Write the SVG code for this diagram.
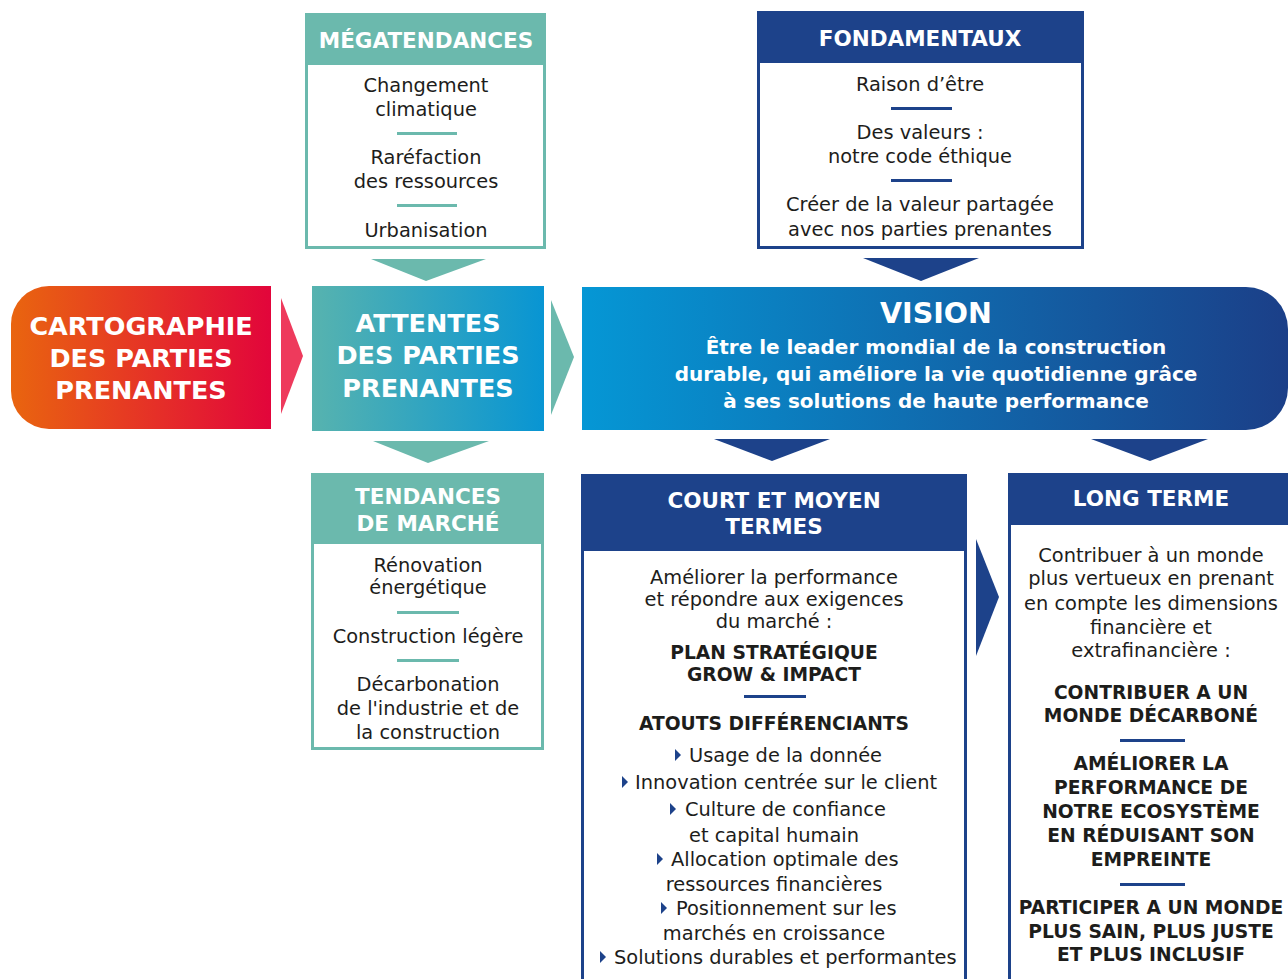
<svg xmlns="http://www.w3.org/2000/svg" xmlns:xlink="http://www.w3.org/1999/xlink" width="1288" height="979" viewBox="0 0 1288 979">
<defs>
<linearGradient id="gCarto" x1="0" y1="0" x2="1" y2="0">
<stop offset="0" stop-color="#E9650F"/><stop offset="1" stop-color="#E2053B"/>
</linearGradient>
<linearGradient id="gAtt" x1="0" y1="0" x2="1" y2="0">
<stop offset="0" stop-color="#57B3AF"/><stop offset="1" stop-color="#0895D3"/>
</linearGradient>
<linearGradient id="gVis" x1="0" y1="0" x2="1" y2="0">
<stop offset="0" stop-color="#0597D5"/><stop offset="1" stop-color="#1B3F88"/>
</linearGradient>
<polygon id="tri" points="0,-6 6,0 0,6" fill="#1D428A"/>
<style>
.body{font-family:"DejaVu Sans",sans-serif;font-size:19.4px;fill:#1D1D1B;text-anchor:middle}
.bodyL{font-family:"DejaVu Sans",sans-serif;font-size:19.4px;fill:#1D1D1B}
.bold{font-family:"DejaVu Sans",sans-serif;font-weight:bold;font-size:18.7px;fill:#1D1D1B;text-anchor:middle}
.hdr{font-family:"DejaVu Sans",sans-serif;font-weight:bold;font-size:21.5px;fill:#FFFFFF;text-anchor:middle}
.big{font-family:"DejaVu Sans",sans-serif;font-weight:bold;font-size:25.5px;fill:#FFFFFF;text-anchor:middle}
.vis{font-family:"DejaVu Sans",sans-serif;font-weight:bold;font-size:20px;fill:#FFFFFF;text-anchor:middle}
.tealbox{fill:#FFFFFF;stroke:#6BB9AD;stroke-width:3}
.bluebox{fill:#FFFFFF;stroke:#1D428A;stroke-width:3}
.teal{fill:#6BB9AD}
.blue{fill:#1D428A}
</style>
</defs>
<rect width="1288" height="979" fill="#FFFFFF"/>

<g id="connectors">
<polygon class="teal" points="371,259 486,259 426,281"/>
<polygon class="blue" points="863,258 979,258 921,281"/>
<polygon fill="#EE3A5C" points="281,298 303,356 281,414"/>
<polygon class="teal" points="551,300 574,357 551,415"/>
<polygon class="teal" points="373,441 489,441 428,463"/>
<polygon class="blue" points="714,439 830,439 772,461"/>
<polygon class="blue" points="1091,439 1208,439 1150,461"/>
<polygon class="blue" points="976,539 999,597 976,656"/>
</g>

<g id="megatendances">
<rect class="tealbox" x="306.5" y="14.5" width="238" height="233"/>
<rect class="teal" x="305" y="13" width="241" height="52"/>
<text class="hdr" x="426" y="48">MÉGATENDANCES</text>
<text class="body" x="426" y="92">Changement</text>
<text class="body" x="426" y="116">climatique</text>
<rect class="teal" x="397" y="132" width="60" height="3"/>
<text class="body" x="426" y="164">Raréfaction</text>
<text class="body" x="426" y="188">des ressources</text>
<rect class="teal" x="397" y="204" width="60" height="3"/>
<text class="body" x="426" y="237">Urbanisation</text>
</g>

<g id="fondamentaux">
<rect class="bluebox" x="758.5" y="12.5" width="324" height="235"/>
<rect class="blue" x="757" y="11" width="327" height="52"/>
<text class="hdr" x="920" y="46">FONDAMENTAUX</text>
<text class="body" x="920" y="91">Raison d’être</text>
<rect class="blue" x="891" y="107" width="61" height="3"/>
<text class="body" x="920" y="139">Des valeurs :</text>
<text class="body" x="920" y="163">notre code éthique</text>
<rect class="blue" x="891" y="179" width="61" height="3"/>
<text class="body" x="920" y="211">Créer de la valeur partagée</text>
<text class="body" x="920" y="236">avec nos parties prenantes</text>
</g>

<g id="cartographie">
<path fill="url(#gCarto)" d="M49 286 H271 V429 H49 A38 38 0 0 1 11 391 V324 A38 38 0 0 1 49 286 Z"/>
<text class="big" x="141" y="335">CARTOGRAPHIE</text>
<text class="big" x="141" y="367">DES PARTIES</text>
<text class="big" x="141" y="399">PRENANTES</text>
</g>

<g id="attentes">
<rect fill="url(#gAtt)" x="312" y="286" width="232" height="145"/>
<text class="big" x="428" y="332">ATTENTES</text>
<text class="big" x="428" y="364">DES PARTIES</text>
<text class="big" x="428" y="397">PRENANTES</text>
</g>

<g id="vision">
<path fill="url(#gVis)" d="M582 287 H1246 A42 42 0 0 1 1288 329 V388 A42 42 0 0 1 1246 430 H582 Z"/>
<text class="big" style="font-size:28.5px" x="936" y="323">VISION</text>
<text class="vis" x="936" y="354">Être le leader mondial de la construction</text>
<text class="vis" x="936" y="381">durable, qui améliore la vie quotidienne grâce</text>
<text class="vis" x="936" y="408">à ses solutions de haute performance</text>
</g>

<g id="tendances">
<rect class="tealbox" x="312.5" y="474.5" width="230" height="274"/>
<rect class="teal" x="311" y="473" width="233" height="71"/>
<text class="hdr" x="428" y="504">TENDANCES</text>
<text class="hdr" x="428" y="531">DE MARCHÉ</text>
<text class="body" x="428" y="572">Rénovation</text>
<text class="body" x="428" y="594">énergétique</text>
<rect class="teal" x="397" y="611" width="62" height="3"/>
<text class="body" x="428" y="643">Construction légère</text>
<rect class="teal" x="397" y="659" width="62" height="3"/>
<text class="body" x="428" y="691">Décarbonation</text>
<text class="body" x="428" y="715">de l'industrie et de</text>
<text class="body" x="428" y="739">la construction</text>
</g>

<g id="court-moyen-termes">
<rect class="bluebox" x="582.5" y="475.5" width="383" height="520"/>
<rect class="blue" x="581" y="474" width="386" height="77"/>
<text class="hdr" x="774" y="508">COURT ET MOYEN</text>
<text class="hdr" x="774" y="534">TERMES</text>
<text class="body" x="774" y="584">Améliorer la performance</text>
<text class="body" x="774" y="606">et répondre aux exigences</text>
<text class="body" x="774" y="628">du marché :</text>
<text class="bold" x="774" y="659">PLAN STRATÉGIQUE</text>
<text class="bold" x="774" y="681">GROW &amp; IMPACT</text>
<rect class="blue" x="744" y="695" width="62" height="3"/>
<text class="bold" x="774" y="730">ATOUTS DIFFÉRENCIANTS</text>
<use xlink:href="#tri" x="675" y="755"/>
<text class="bodyL" x="689" y="762">Usage de la donnée</text>
<use xlink:href="#tri" x="622" y="782"/>
<text class="bodyL" x="635" y="789">Innovation centrée sur le client</text>
<use xlink:href="#tri" x="670" y="809"/>
<text class="bodyL" x="685" y="816">Culture de confiance</text>
<text class="body" x="774" y="842">et capital humain</text>
<use xlink:href="#tri" x="657" y="859"/>
<text class="bodyL" x="671" y="866">Allocation optimale des</text>
<text class="body" x="774" y="891">ressources financières</text>
<use xlink:href="#tri" x="661" y="908"/>
<text class="bodyL" x="676" y="915">Positionnement sur les</text>
<text class="body" x="774" y="940">marchés en croissance</text>
<use xlink:href="#tri" x="600" y="957"/>
<text class="bodyL" x="614" y="964">Solutions durables et performantes</text>
</g>

<g id="long-terme">
<rect class="bluebox" x="1009.5" y="474.5" width="290" height="520"/>
<rect class="blue" x="1008" y="473" width="290" height="52"/>
<text class="hdr" x="1151" y="506">LONG TERME</text>
<text class="body" x="1151" y="562">Contribuer à un monde</text>
<text class="body" x="1151" y="585">plus vertueux en prenant</text>
<text class="body" x="1151" y="610">en compte les dimensions</text>
<text class="body" x="1151" y="634">financière et</text>
<text class="body" x="1151" y="657">extrafinancière :</text>
<text class="bold" x="1151" y="699">CONTRIBUER A UN</text>
<text class="bold" x="1151" y="722">MONDE DÉCARBONÉ</text>
<rect class="blue" x="1120" y="739" width="65" height="3"/>
<text class="bold" x="1151" y="770">AMÉLIORER LA</text>
<text class="bold" x="1151" y="794">PERFORMANCE DE</text>
<text class="bold" x="1151" y="818">NOTRE ECOSYSTÈME</text>
<text class="bold" x="1151" y="842">EN RÉDUISANT SON</text>
<text class="bold" x="1151" y="866">EMPREINTE</text>
<rect class="blue" x="1120" y="883" width="65" height="3"/>
<text class="bold" x="1151" y="914">PARTICIPER A UN MONDE</text>
<text class="bold" x="1151" y="938">PLUS SAIN, PLUS JUSTE</text>
<text class="bold" x="1151" y="961">ET PLUS INCLUSIF</text>
</g>
</svg>
